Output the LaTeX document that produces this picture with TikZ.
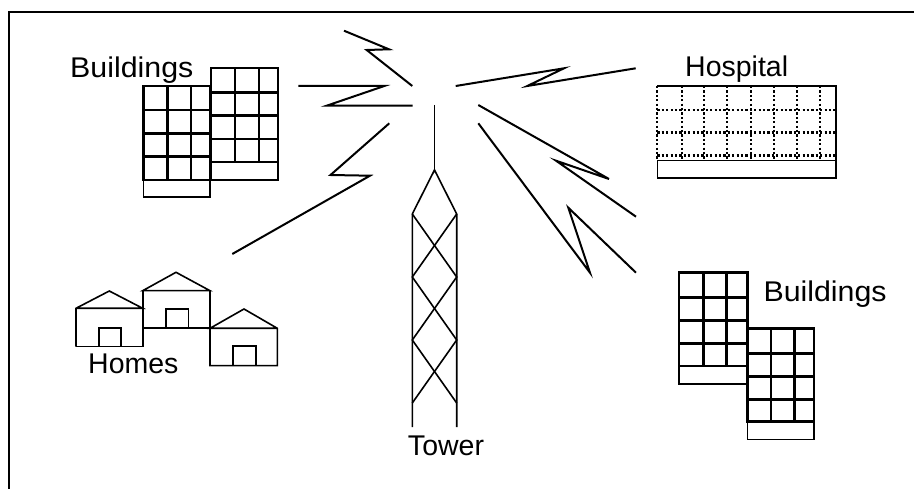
\documentclass[tikz,border=0pt]{standalone}
\usepackage{fontspec}
\setmainfont{Liberation Sans}
\begin{document}
\begin{tikzpicture}[x=1pt,y=-1pt,
  label/.style={inner sep=0pt,anchor=base west,font=\fontsize{28.5}{34}\selectfont},
  widelabel/.style={label,xscale=1.065},
  frameline/.style={line width=1.6pt},
  gridline/.style={line width=2.8pt,line cap=rect},
  thinline/.style={line width=1.6pt},
  bolt/.style={line width=2pt,line join=miter},
  dotline/.style={line width=2.3pt,dash pattern=on 2.2pt off 2.2pt}]
\useasboundingbox (0,0) rectangle (914,489);

% outer frame (top and left edges)
\draw[frameline] (9,489) -- (9,12) -- (914,12);

% ---------- office blocks, upper left ----------
% rear block
\foreach \x in {211,235,259,278} \draw[gridline] (\x,68) -- (\x,162);
\foreach \y in {68,92.7,115.7,139,162} \draw[gridline] (211,\y) -- (278,\y);
\draw[thinline] (211,162) rectangle (278,180);
% front block
\foreach \x in {143.3,167.3,191,210} \draw[gridline] (\x,86) -- (\x,180);
\foreach \y in {86,110,133.3,156.7,180} \draw[gridline] (143.3,\y) -- (210,\y);
\draw[thinline] (143.3,180) rectangle (210,197.3);
\node[widelabel] (bldA) at (70,78) {Buildings};

% ---------- hospital ----------
\foreach \x in {681.7,704,727.3,750.7,774,797.3,820} \draw[dotline] (\x,86) -- (\x,160.7);
\foreach \y in {110,132.5,155.5} \draw[dotline] (657.3,\y) -- (836,\y);
\draw[dotline] (657.3,86) -- (657.3,160.7);
\draw[thinline] (657.3,86) -- (836,86) -- (836,178.3) -- (657.3,178.3) -- (657.3,160.7) -- (836,160.7);
\node[label] (hosp) at (685,77) {Hospital};

% ---------- homes ----------
\draw[thinline] (76,346.7) -- (76,308.3) -- (109.3,291) -- (142.7,308.3) -- (76,308.3);
\draw[thinline] (76,346.7) -- (142.7,346.7) -- (142.7,290.7);
\draw[thinline] (99,346.7) -- (99,328.3) -- (121,328.3) -- (121,346.7);
\draw[thinline] (142.7,290.7) -- (176,272.3) -- (210,290.7) -- cycle;
\draw[thinline] (142.7,328.3) -- (210,328.3);
\draw[thinline] (210,290.7) -- (210,365.7) -- (277.3,365.7) -- (277.3,328.3) -- (244,309) -- (210,328.3) -- (277.3,328.3);
\draw[thinline] (166,328.3) -- (166,309) -- (188.3,309) -- (188.3,328.3);
\draw[thinline] (232.7,365.7) -- (232.7,346) -- (255.7,346) -- (255.7,365.7);
\node[label] (homes) at (88,373.3) {Homes};

% ---------- tower ----------
\coordinate (apex) at (434.5,170);
\draw[thinline] (434.5,105) -- (apex);
\draw[thinline] (412.3,427) -- (412.3,214) -- (apex) -- (456.7,214) -- (456.7,427);
\draw[thinline] (412.3,214) -- (456.7,277) -- (412.3,340) -- (456.7,403);
\draw[thinline] (456.7,214) -- (412.3,277) -- (456.7,340) -- (412.3,403);
\node[label,anchor=base] (tower) at (446,455) {Tower};

% ---------- office blocks, lower right ----------
% rear block
\foreach \x in {679,703.3,726.7,747.3} \draw[gridline] (\x,272.3) -- (\x,366);
\foreach \y in {272.3,297.3,320.7,343.3,366} \draw[gridline] (679,\y) -- (747.3,\y);
\draw[thinline] (679,366) rectangle (747.3,384);
% front block
\foreach \x in {747.3,771,794.3,814} \draw[gridline] (\x,328.3) -- (\x,421.7);
\foreach \y in {328.3,353.3,376.7,399.3,421.7} \draw[gridline] (747.3,\y) -- (814,\y);
\draw[thinline] (747.3,421.7) rectangle (814,439.3);
\node[widelabel] (bldB) at (763.3,301.7) {Buildings};

% ---------- radio links ----------
\draw[bolt] (344,30.7) -- (389,49.3) -- (366.7,50) -- (412.3,86);
\draw[bolt] (298.3,86) -- (384.3,86) -- (326.7,105.7) -- (412.7,105.7);
\draw[bolt] (389.3,123.3) -- (330.5,175) -- (370,175.7) -- (232.3,254);
\draw[bolt] (455.7,86) -- (564,68.3) -- (527.3,86) -- (635.7,68.3);
\draw[bolt] (478.3,105) -- (609,179) -- (556,160.7) -- (636,216.7);
\draw[bolt] (478.3,123.3) -- (590,272.7) -- (568.3,207.7) -- (636,272.7);
\end{tikzpicture}
\end{document}
